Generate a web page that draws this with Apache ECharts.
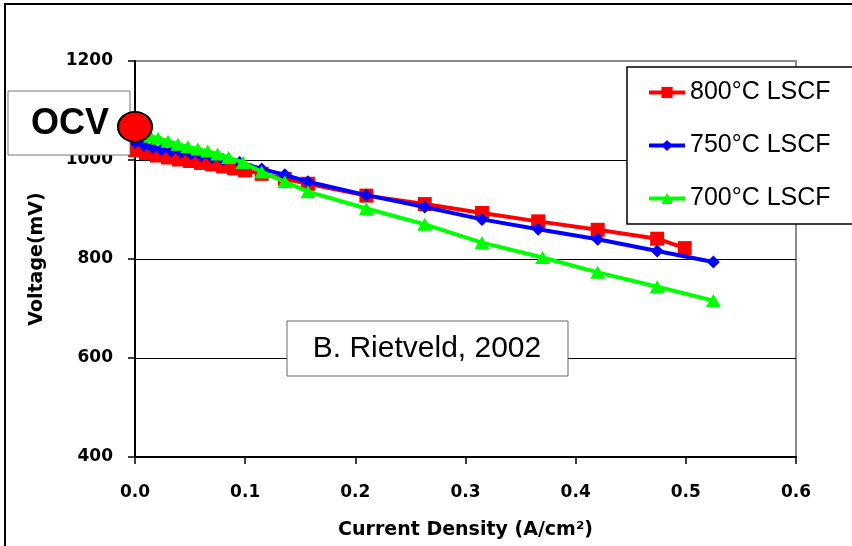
<!DOCTYPE html>
<html>
<head>
<meta charset="utf-8">
<script src="https://cdn.jsdelivr.net/npm/echarts@6/dist/echarts.min.js"></script>
<style>html,body{margin:0;padding:0;background:#fff;}#c{width:852px;height:546px;}</style>
</head>
<body>
<div id="c"></div>
<script>
// ---- data ----
var seriesNames = ['800°C LSCF', '750°C LSCF', '700°C LSCF'];
var xTickLabels = ['0.0', '0.1', '0.2', '0.3', '0.4', '0.5', '0.6'];
var yTickLabels = ['400', '600', '800', '1000', '1200'];

var red800X = [0, 0.01, 0.02, 0.03, 0.04, 0.05, 0.06, 0.07, 0.08, 0.09, 0.1, 0.115, 0.136, 0.157, 0.21, 0.263, 0.315, 0.366, 0.42, 0.474, 0.499];
var red800Y = [1020, 1014, 1009, 1005, 1001, 998, 994, 991, 987, 983, 979, 972, 962, 952, 928, 911, 893, 876, 859, 841, 822];

var blue750X = [0, 0.008, 0.016, 0.024, 0.033, 0.042, 0.051, 0.06, 0.07, 0.08, 0.095, 0.115, 0.136, 0.157, 0.21, 0.263, 0.315, 0.366, 0.42, 0.474, 0.525];
var blue750Y = [1036, 1030, 1025, 1021, 1018, 1015, 1012, 1009, 1005, 1001, 995, 982, 970, 956, 929, 905, 880, 860, 840, 816, 794];

var green700X = [0, 0.007, 0.014, 0.021, 0.03, 0.039, 0.048, 0.057, 0.066, 0.075, 0.085, 0.098, 0.115, 0.136, 0.157, 0.21, 0.263, 0.315, 0.37, 0.42, 0.474, 0.525];
var green700Y = [1058, 1053, 1048, 1044, 1038, 1032, 1027, 1022, 1018, 1012, 1005, 995, 976, 956, 936, 902, 870, 833, 803, 773, 744, 716];

var ocvPoint = [0, 1067];
var ocvLabel = 'OCV';
var sourceLabel = 'B. Rietveld, 2002';
var xAxisTitle = 'Current Density (A/cm²)';
var yAxisTitle = 'Voltage(mV)';

function zip(xs, ys) { return xs.map(function (x, i) { return [x, ys[i]]; }); }

var chart = echarts.init(document.getElementById('c'), null, { renderer: 'canvas' });
var tickFont = { fontFamily: 'DejaVu Sans', fontWeight: 'bold', fontSize: 17, color: '#000' };

var option = {
  animation: false,
  backgroundColor: '#fff',
  grid: { left: 135, top: 61, right: 56, bottom: 89, show: true, borderColor: '#8c8c8c', borderWidth: 2, backgroundColor: 'transparent' },
  xAxis: {
    type: 'value', min: 0, max: 0.6, interval: 0.1,
    name: xAxisTitle, nameLocation: 'middle', nameGap: 64,
    nameTextStyle: { fontFamily: 'DejaVu Sans', fontWeight: 'bold', fontSize: 19, color: '#000' },
    axisLine: { show: true, onZero: false, lineStyle: { color: '#000', width: 2 } },
    axisTick: { show: true, length: 7, lineStyle: { color: '#000', width: 1.5 } },
    axisLabel: Object.assign({ margin: 27, formatter: function (v) { var i = Math.round(v * 10); return xTickLabels[i]; } }, tickFont),
    splitLine: { show: false }
  },
  yAxis: {
    type: 'value', min: 400, max: 1200, interval: 200,
    name: yAxisTitle, nameLocation: 'middle', nameGap: 88,
    nameTextStyle: { fontFamily: 'DejaVu Sans', fontWeight: 'bold', fontSize: 19, color: '#000' },
    axisLine: { show: true, lineStyle: { color: '#000', width: 2 } },
    axisTick: { show: true, length: 7, lineStyle: { color: '#000', width: 1.5 } },
    axisLabel: Object.assign({ margin: 22, formatter: function (v) { return yTickLabels[Math.round((v - 400) / 200)]; } }, tickFont),
    splitLine: { show: true, lineStyle: { color: ['#000', '#000', '#000', '#000', '#8c8c8c'], width: 1.2 } }
  },
  legend: {
    orient: 'vertical', left: 627, top: 67,
    data: seriesNames,
    backgroundColor: '#fff', borderColor: '#000', borderWidth: 1.5,
    padding: [13, 40, 13, 20], itemGap: 28,
    itemWidth: 36, itemHeight: 14,
    lineStyle: { width: 4 },
    textStyle: { fontFamily: 'Liberation Sans', fontSize: 25, color: '#000' },
    z: 20
  },
  graphic: [
    { type: 'rect', z: 0, silent: true, shape: { x: 5, y: 4, width: 1000, height: 1000 }, style: { fill: 'none', stroke: '#000', lineWidth: 2 } },
    { type: 'rect', z: 50, silent: true, shape: { x: 8, y: 91, width: 122, height: 64 }, style: { fill: '#fff', stroke: '#777', lineWidth: 1 } },
    { type: 'text', z: 51, silent: true, x: 70, y: 124, style: { text: ocvLabel, fontFamily: 'Liberation Sans', fontWeight: 'bold', fontSize: 36, fill: '#000', align: 'center', verticalAlign: 'middle' } },
    { type: 'rect', z: 50, silent: true, shape: { x: 287, y: 321, width: 281, height: 55 }, style: { fill: '#fff', stroke: '#666', lineWidth: 1 } },
    { type: 'text', z: 51, silent: true, x: 427, y: 349, style: { text: sourceLabel, fontFamily: 'Liberation Sans', fontSize: 30, fill: '#000', align: 'center', verticalAlign: 'middle' } }
  ],
  series: [
    { name: seriesNames[0], type: 'line', data: zip(red800X, red800Y), symbol: 'rect', symbolSize: 14,
      lineStyle: { color: '#ff0000', width: 4 }, itemStyle: { color: '#ff0000' }, z: 3 },
    { name: seriesNames[1], type: 'line', data: zip(blue750X, blue750Y), symbol: 'diamond', symbolSize: 13,
      lineStyle: { color: '#0000ff', width: 4 }, itemStyle: { color: '#0000ff' }, z: 4 },
    { name: seriesNames[2], type: 'line', data: zip(green700X, green700Y), symbol: 'triangle', symbolSize: [15, 13],
      lineStyle: { color: '#00ff00', width: 4 }, itemStyle: { color: '#00ff00' }, z: 5 },
    { name: 'OCV', type: 'scatter', data: [ocvPoint], symbol: 'circle', symbolSize: [34, 30], clip: false,
      itemStyle: { color: '#ff0000', opacity: 1, borderColor: '#000', borderWidth: 2 }, z: 60 }
  ]
};
chart.setOption(option);
</script>
</body>
</html>
